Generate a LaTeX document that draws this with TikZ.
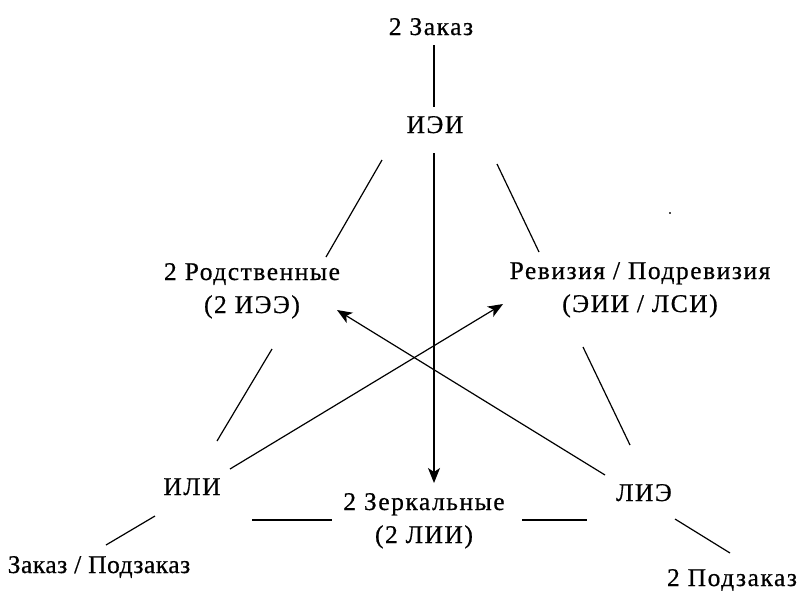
\documentclass[tikz,border=0pt]{standalone}
\usepackage{fontspec}
\setmainfont{Liberation Serif}[LetterSpace=6,FakeBold=0.6]
\newfontfamily\tightfont{Liberation Serif}[LetterSpace=2,FakeBold=0.6]
\usetikzlibrary{arrows.meta}
\begin{document}
\begin{tikzpicture}[x=1pt,y=-1pt,
  lbl/.style={font=\fontsize{25.5}{33}\selectfont, inner sep=0pt, align=center, anchor=base},
  edge/.style={line width=1.2pt, black},
  arr/.style={line width=1.2pt, black, -{Stealth[length=15pt,width=12pt,inset=4pt]}}]
\useasboundingbox (0,0) rectangle (800,590);
% text nodes (anchored at the baseline of their last line)
\node[lbl] (zakaz2) at (431,35) {2 Заказ};
\node[lbl] (iei) at (435,133) {ИЭИ};
\node[lbl] (rod) at (252,313) {2 Родственные\\(2 ИЭЭ)};
\node[lbl] (rev) at (640,312) {Ревизия / Подревизия\\(ЭИИ / ЛСИ)};
\node[lbl] (ili) at (192,495) {ИЛИ};
\node[lbl] (lie) at (644,501) {ЛИЭ};
\node[lbl] (zerk) at (424,543) {2 Зеркальные\\(2 ЛИИ)};
\node[lbl, font=\fontsize{25.5}{33}\tightfont] (zpz) at (99,573) {Заказ / Подзаказ};
\node[lbl] (podz2) at (732,586) {2 Подзаказ};
% connector end points
\coordinate (a1) at (434,45);   \coordinate (a2) at (434,107);
\coordinate (b1) at (434,153);  \coordinate (b2) at (434,483);
\coordinate (c1) at (382,160);  \coordinate (c2) at (326,257);
\coordinate (d1) at (497,164);  \coordinate (d2) at (539,252);
\coordinate (e1) at (272,349);  \coordinate (e2) at (217,441);
\coordinate (f1) at (583,347);  \coordinate (f2) at (630,445);
\coordinate (g1) at (230,469);  \coordinate (g2) at (503,304);
\coordinate (h1) at (605,475);  \coordinate (h2) at (337,310);
\coordinate (i1) at (252,520);  \coordinate (i2) at (332,520);
\coordinate (j1) at (522,520);  \coordinate (j2) at (587,520);
\coordinate (k1) at (155,516);  \coordinate (k2) at (106,545);
\coordinate (l1) at (675,519);  \coordinate (l2) at (730,553);
% connectors
\draw[edge] (a1) -- (a2);
\draw[arr] (b1) -- (b2);
\draw[edge] (c1) -- (c2);
\draw[edge] (d1) -- (d2);
\draw[edge] (e1) -- (e2);
\draw[edge] (f1) -- (f2);
\draw[arr] (g1) -- (g2);
\draw[arr] (h1) -- (h2);
\draw[edge] (i1) -- (i2);
\draw[edge] (j1) -- (j2);
\draw[edge] (k1) -- (k2);
\draw[edge] (l1) -- (l2);
% stray dot
\fill[black!70] (669,212) rectangle (671,214);
\end{tikzpicture}
\end{document}
